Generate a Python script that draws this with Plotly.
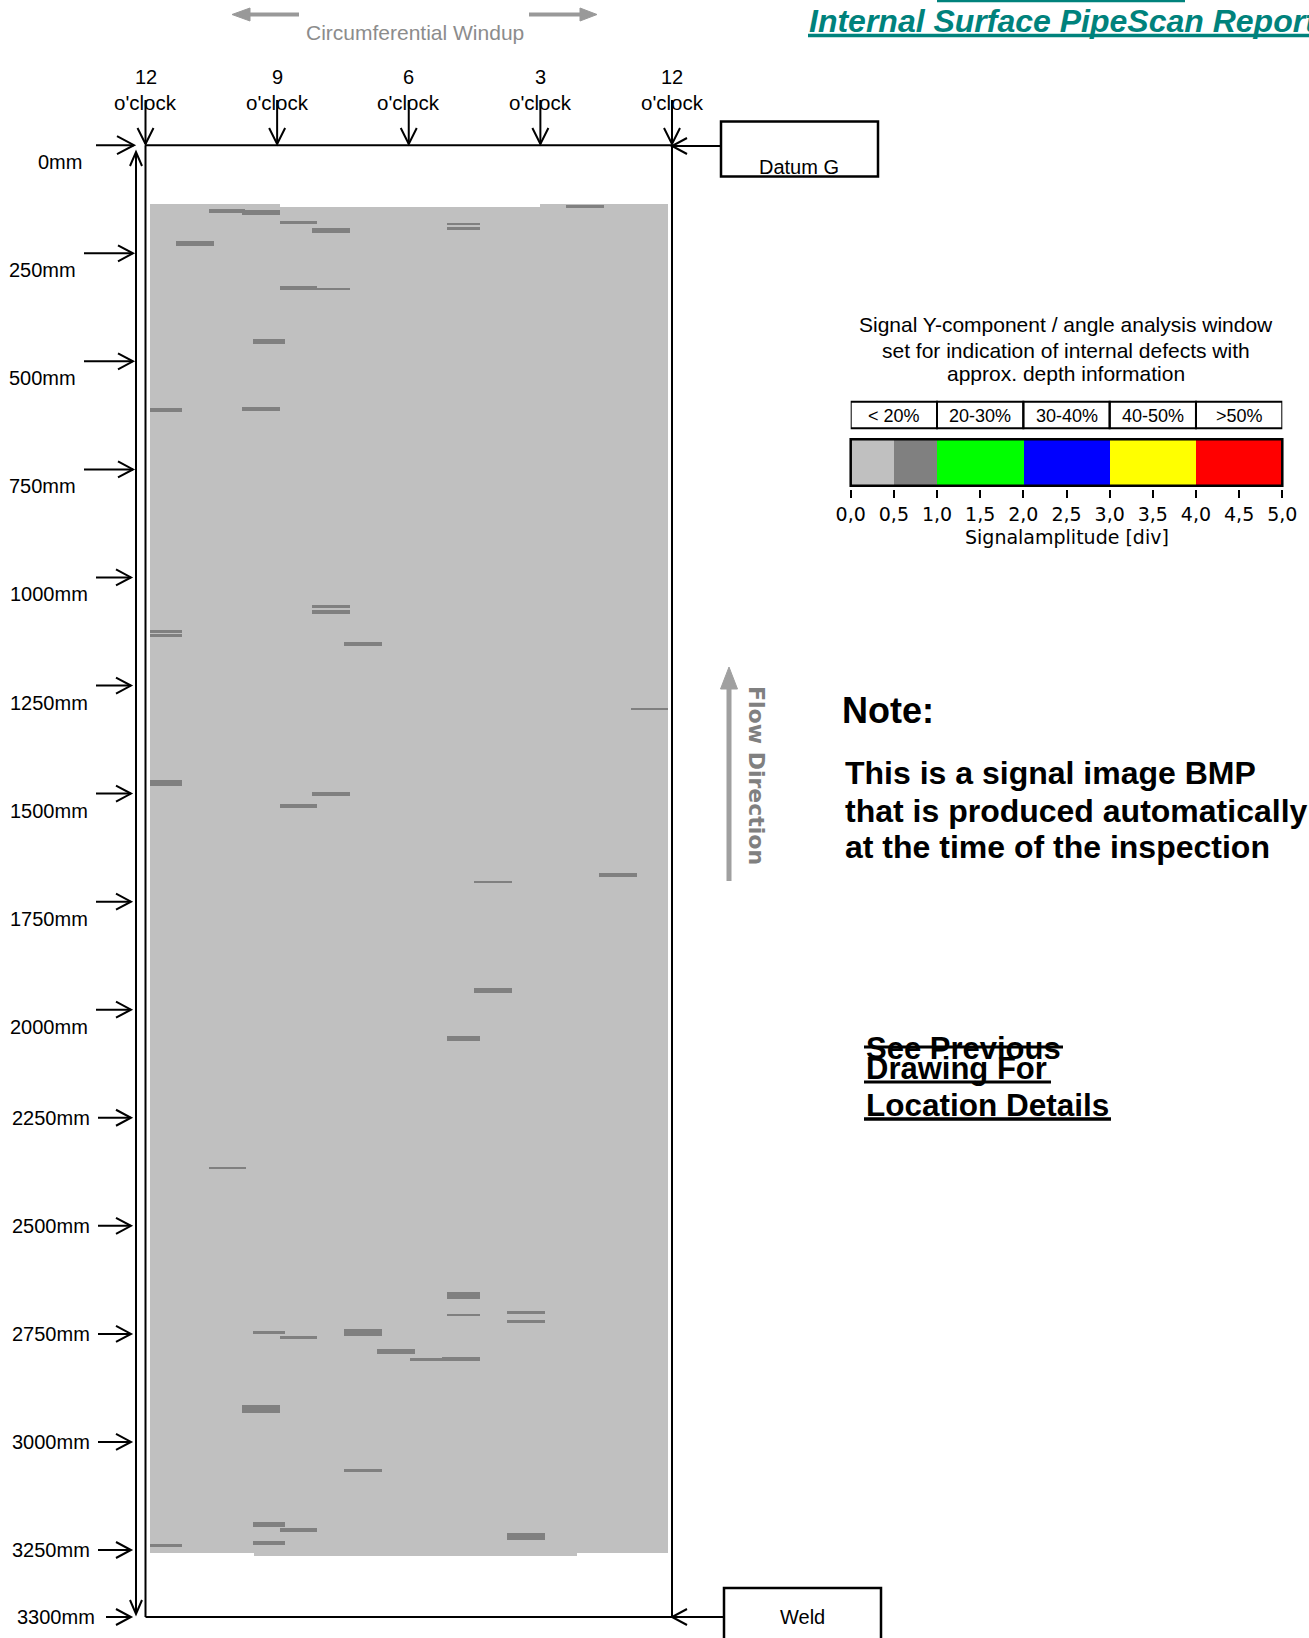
import plotly.graph_objects as go

W, H = 1309, 1638

# ------------------------------------------------------------------ data
clock_labels = ["12", "9", "6", "3", "12"]
clock_deg = [0, 90, 180, 270, 360]

axial_ticks_mm = [0, 250, 500, 750, 1000, 1250, 1500, 1750, 2000,
                  2250, 2500, 2750, 3000, 3250]
axial_tick_labels = [f"{v}mm" for v in axial_ticks_mm]
pipe_end_label = "3300mm"

# scanned (signal image) area, degrees / mm
scan_x0 = [2.9, 2.9, 269.6, 73.6]
scan_x1 = [357.1, 91.4, 357.1, 295.0]
scan_y0 = [142.6, 138.1, 138.1, 3257.4]
scan_y1 = [3257.4, 142.6, 142.6, 3264.9]

# indications: circumferential start/end (deg), axial centre (mm), axial length (mm)
defect_start_deg = [42.9, 65.7, 91.4, 113.6, 205.7, 205.7, 287.1, 20.7, 91.4, 117.1,
                    72.9, 2.9, 65.7, 113.6, 113.6, 2.9, 2.9, 135.7, 331.4, 2.9,
                    113.6, 91.4, 310.0, 224.3, 224.3, 206.1, 42.9, 205.7, 205.7, 246.8,
                    246.8, 72.9, 91.4, 135.7, 157.9, 180.4, 202.1, 65.7, 135.7, 72.9,
                    91.4, 72.9, 2.9, 247.1]
defect_end_deg = [67.9, 91.4, 117.1, 139.3, 228.6, 228.6, 312.9, 46.4, 117.1, 139.3,
                  95.0, 24.3, 91.4, 139.3, 139.3, 24.3, 24.3, 161.4, 357.1, 24.3,
                  139.3, 117.1, 335.7, 250.0, 250.0, 228.3, 68.6, 228.2, 228.2, 272.6,
                  272.6, 95.0, 117.1, 161.4, 183.6, 202.1, 228.2, 91.4, 161.4, 95.0,
                  117.1, 95.0, 24.3, 272.9]
defect_pos_mm = [152.3, 157.0, 178.8, 198.2, 183.7, 193.4, 142.6, 228.6, 331.1, 333.5,
                 454.3, 613.8, 610.2, 1068.1, 1081.4, 1126.1, 1135.8, 1154.0, 1304.9, 1475.4,
                 1502.4, 1528.5, 1688.2, 1706.1, 1955.1, 2067.9, 2367.3, 2660.7, 2707.6, 2701.8,
                 2722.1, 2747.7, 2759.8, 2747.7, 2791.1, 2810.5, 2808.1, 2924.1, 3066.6, 3192.3,
                 3203.2, 3233.4, 3240.7, 3218.9]
defect_len_mm = [9.3, 11.6, 6.2, 11.6, 4.6, 4.6, 8.3, 11.6, 8.0, 4.6,
                 11.6, 9.3, 9.3, 6.9, 9.3, 4.6, 6.9, 9.3, 4.6, 13.2,
                 9.3, 9.3, 9.3, 4.6, 11.6, 11.6, 4.6, 16.2, 4.6, 6.9,
                 4.6, 6.9, 4.6, 16.2, 11.6, 4.6, 9.3, 17.5, 5.2, 11.6,
                 9.3, 9.3, 6.9, 16.2]

# colour scale legend
legend_edges = [0.0, 0.5, 1.0, 2.0, 3.0, 4.0, 5.0]
legend_colors = ["#c0c0c0", "#808080", "#00ff00", "#0000ff", "#ffff00", "#ff0000"]
depth_edges = [0, 1, 2, 3, 4, 5]
depth_labels = ["< 20%", "20-30%", "30-40%", "40-50%", ">50%"]
amp_ticks = [0.0, 0.5, 1.0, 1.5, 2.0, 2.5, 3.0, 3.5, 4.0, 4.5, 5.0]
amp_tick_text = ["0,0", "0,5", "1,0", "1,5", "2,0", "2,5", "3,0", "3,5", "4,0", "4,5", "5,0"]

# ------------------------------------------------------------------ layout helpers
FONT = "Liberation Sans, Arial, Helvetica, sans-serif"
PIX = "DejaVu Sans, Verdana, sans-serif"
TEAL = "#00827c"

PX0, PX1 = 145.5, 672.0      # pipe left / right (px)
PY0, PY1 = 145.2, 1617.0     # pipe top / bottom (px)
AXIS_END_MM = 3405.0         # axial axis value at the pipe's drawn bottom edge


def px(x):
    return x / W


def py(y):
    return 1 - y / H


def deg2px(d):
    return PX0 + d / 360.0 * (PX1 - PX0)


def mm2py(m):
    return PY0 + m / AXIS_END_MM * (PY1 - PY0)


shapes = []
annotations = []


def seg(x0, y0, x1, y1, color="black", w=2):
    shapes.append(dict(type="line", xref="paper", yref="paper",
                       x0=px(x0), y0=py(y0), x1=px(x1), y1=py(y1),
                       line=dict(color=color, width=w)))


def rect(x0, y0, x1, y1, color="black", w=2):
    shapes.append(dict(type="rect", xref="paper", yref="paper",
                       x0=px(x0), y0=py(y0), x1=px(x1), y1=py(y1),
                       line=dict(color=color, width=w),
                       fillcolor="rgba(0,0,0,0)"))


def vhead(tx, ty, dx, dy, L=15, hw=8, color="black", w=2):
    # open "V" arrow head, tip at (tx,ty), pointing along (dx,dy)
    bx, by = tx - dx * L, ty - dy * L
    ax1, ay1 = bx - dy * hw, by + dx * hw
    ax2, ay2 = bx + dy * hw, by - dx * hw
    path = f"M {px(ax1)},{py(ay1)} L {px(tx)},{py(ty)} L {px(ax2)},{py(ay2)}"
    shapes.append(dict(type="path", xref="paper", yref="paper", path=path,
                       line=dict(color=color, width=w)))


def tri(pts, color):
    path = "M " + " L ".join(f"{px(a)},{py(b)}" for a, b in pts) + " Z"
    shapes.append(dict(type="path", xref="paper", yref="paper", path=path,
                       fillcolor=color, line=dict(color=color, width=1)))


def txt(x, y, s, size, color="black", family=FONT, xanchor="center",
        yanchor="middle", angle=0):
    annotations.append(dict(x=px(x), y=py(y), xref="paper", yref="paper",
                            text=s, showarrow=False, xanchor=xanchor,
                            yanchor=yanchor, textangle=angle,
                            font=dict(size=size, color=color, family=family)))


# ------------------------------------------------------------------ figure
fig = go.Figure()

# scanned area
fig.add_trace(go.Bar(
    orientation="h",
    base=scan_x0,
    x=[b - a for a, b in zip(scan_x0, scan_x1)],
    y=[(a + b) / 2 for a, b in zip(scan_y0, scan_y1)],
    width=[b - a for a, b in zip(scan_y0, scan_y1)],
    marker=dict(color="#c0c0c0", line=dict(width=0)),
    hoverinfo="skip", showlegend=False, xaxis="x", yaxis="y"))

# indications
fig.add_trace(go.Bar(
    orientation="h",
    base=defect_start_deg,
    x=[b - a for a, b in zip(defect_start_deg, defect_end_deg)],
    y=defect_pos_mm,
    width=defect_len_mm,
    marker=dict(color="#808080", line=dict(width=0)),
    hoverinfo="skip", showlegend=False, xaxis="x", yaxis="y"))

# colour scale legend
for i, c in enumerate(legend_colors):
    fig.add_trace(go.Bar(
        orientation="h", base=[legend_edges[i]],
        x=[legend_edges[i + 1] - legend_edges[i]], y=[0.5], width=[1.0],
        marker=dict(color=c, line=dict(width=0)),
        hoverinfo="skip", showlegend=False, xaxis="x2", yaxis="y2"))

# ---- pipe outline
seg(PX0, PY0, PX1, PY0)
seg(PX0, PY0, PX0, PY1)
seg(PX1, PY0, PX1, PY1)
seg(PX0, PY1, PX1, PY1)

# ---- axial double arrow
seg(136, 152, 136, 1614)
vhead(136, 152, 0, -1, L=14, hw=6)
vhead(136, 1614, 0, 1, L=14, hw=6)

# ---- axial ticks
for mm, lab in zip(axial_ticks_mm, axial_tick_labels):
    y = mm2py(mm)
    if mm == 0:
        seg(96, y, 134, y)
        vhead(134, y, 1, 0, L=17, hw=9)
        txt(84, y + 17, lab, 20, xanchor="right")
    elif mm < 1000:
        seg(84, y, 133, y)
        vhead(133, y, 1, 0)
        txt(78, y + 17, lab, 20, xanchor="right")
    elif mm <= 2000:
        seg(96, y, 131, y)
        vhead(131, y, 1, 0)
        txt(90, y + 17, lab, 20, xanchor="right")
    else:
        seg(98, y, 131, y)
        vhead(131, y, 1, 0)
        txt(92, y, lab, 20, xanchor="right")

# pipe end marker
seg(106, PY1, 131, PY1)
vhead(131, PY1, 1, 0)
txt(97, PY1, pipe_end_label, 20, xanchor="right")

# ---- clock positions
for hour, d in zip(clock_labels, clock_deg):
    xc = deg2px(d)
    txt(xc, 77, hour, 20)
    txt(xc, 102, "o'clock", 20.5)
    seg(xc, 100, xc, 144)
    vhead(xc, 144, 0, 1, L=16, hw=8)

# ---- circumferential windup
txt(415, 32, "Circumferential Windup", 21, color="#8c8c8c")
seg(299, 14.5, 246, 14.5, color="#999999", w=4)
tri([(232, 14.5), (250, 8), (250, 21)], "#999999")
seg(529, 14.5, 582, 14.5, color="#999999", w=4)
tri([(597, 14.5), (580, 8), (580, 21)], "#999999")

# ---- title
txt(807, 21, "<b><i>Internal Surface PipeScan Report</i></b>", 32, color=TEAL,
    xanchor="left")
seg(808, 35.5, 1312, 35.5, color=TEAL, w=3.5)
seg(937, 0.8, 1185, 0.8, color=TEAL, w=3)

# ---- datum / weld boxes
rect(721, 121.5, 878, 176.5, w=2.5)
txt(799, 167, "Datum G", 20)
seg(672, 146, 721, 146)
vhead(672, 146, -1, 0)

rect(724, 1588, 881, 1650, w=2.5)
txt(802, 1617, "Weld", 20)
seg(672, 1617, 724, 1617)
vhead(672, 1617, -1, 0)

# ---- legend texts
txt(1066, 325, "Signal Y-component / angle analysis window", 21)
txt(1066, 350, "set for indication of internal defects with", 21)
txt(1066, 374, "approx. depth information", 21)

for i, lab in enumerate(depth_labels):
    shapes.append(dict(type="rect", xref="x2", yref="paper",
                       x0=depth_edges[i], x1=depth_edges[i + 1],
                       y0=py(428.3), y1=py(401.7),
                       line=dict(color="black", width=2)))
    annotations.append(dict(x=(depth_edges[i] + depth_edges[i + 1]) / 2, y=py(415.5),
                            xref="x2", yref="paper", text=lab, showarrow=False,
                            xanchor="center", yanchor="middle",
                            font=dict(size=18, color="black", family=FONT)))
rect(850.7, 439.3, 1282.3, 485.7, w=2.5)
txt(1067, 537, "Signalamplitude [div]", 19, family=PIX)

# ---- flow direction
seg(729, 881, 729, 684, color="#a0a0a0", w=5)
tri([(729, 667), (720.5, 689), (737.5, 689)], "#a0a0a0")
txt(757, 775, "<b>Flow Direction</b>", 22, color="#808080", family=PIX, angle=90)

# ---- notes
txt(840, 710, "<b>Note:</b>", 36, xanchor="left")
txt(843, 773, "<b>This is a signal image BMP</b>", 32, xanchor="left")
txt(843, 811, "<b>that is produced automatically</b>", 32, xanchor="left")
txt(843, 847, "<b>at the time of the inspection</b>", 32, xanchor="left")

txt(864, 1048, "<b>See Previous</b>", 31, xanchor="left")
seg(864, 1047, 1063, 1047, w=3)
txt(864, 1068, "<b>Drawing For</b>", 31, xanchor="left")
seg(864, 1082, 1051, 1082, w=3)
txt(864, 1105, "<b>Location Details</b>", 31.5, xanchor="left")
seg(864, 1119, 1111, 1119, w=3.5)

fig.update_layout(
    template="none",
    width=W, height=H, autosize=False,
    margin=dict(l=0, r=0, t=0, b=0, pad=0, autoexpand=False),
    paper_bgcolor="white", plot_bgcolor="rgba(0,0,0,0)",
    barmode="overlay", bargap=0,
    showlegend=False,
    xaxis=dict(domain=[px(PX0), px(PX1)], range=[0, 360], visible=False,
               automargin=False, fixedrange=True),
    yaxis=dict(domain=[py(PY1), py(PY0)], range=[AXIS_END_MM, 0], visible=False,
               automargin=False, fixedrange=True),
    xaxis2=dict(domain=[px(850.7), px(1282.3)], range=[0, 5], anchor="free",
                position=py(489), tickvals=amp_ticks, ticktext=amp_tick_text,
                ticks="outside", ticklen=8, tickwidth=2, tickcolor="black",
                showline=False, showgrid=False, zeroline=False, automargin=False,
                tickfont=dict(family=PIX, size=19, color="black"),
                fixedrange=True),
    yaxis2=dict(domain=[py(485.7), py(439.3)], range=[0, 1], visible=False,
                anchor="x2", automargin=False, fixedrange=True),
    shapes=shapes,
    annotations=annotations,
)

fig.write_html("out.html", config={"displayModeBar": False},
               post_script="document.body.style.margin='0px';document.body.style.overflow='hidden';")
